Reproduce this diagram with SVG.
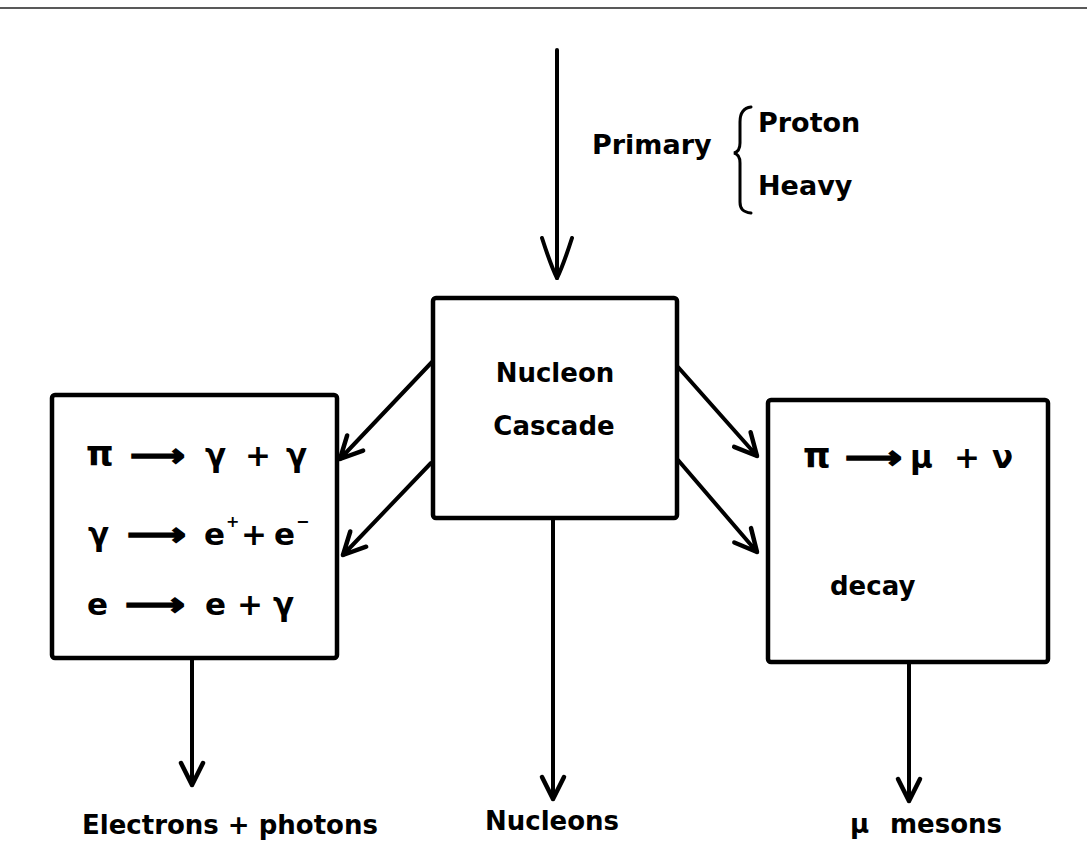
<svg xmlns="http://www.w3.org/2000/svg" width="1087" height="847" viewBox="0 0 1087 847">
  <style>
    .box { fill: #fff; stroke: #000; stroke-width: 4.5; stroke-linejoin: round; }
    .lbl { font-family: "DejaVu Sans", "Liberation Sans", sans-serif; font-weight: bold; font-size: 26px; fill: #000; }
    .top { font-size: 27px; }
    .eq { font-size: 31px; }
    .big { font-size: 35px; }
    .arr { stroke: #000; stroke-width: 1.6; }
    .sup { font-size: 16px; }
    .conn { stroke: #000; stroke-width: 4; fill: none; stroke-linecap: round; }
  </style>
  <defs>
    <marker id="head" markerUnits="userSpaceOnUse" markerWidth="60" markerHeight="60" refX="0" refY="0" orient="auto" overflow="visible" viewBox="-30 -30 60 60">
      <path d="M-22,-11 Q-8,-4 0,0 Q-8,4 -22,11" fill="none" stroke="#000" stroke-width="4.5" stroke-linecap="round" stroke-linejoin="round"/>
      <path d="M-9,-4 L0,0 L-9,4 Z" fill="#000"/>
    </marker>
    <marker id="headBig" markerUnits="userSpaceOnUse" markerWidth="90" markerHeight="90" refX="0" refY="0" orient="auto" overflow="visible" viewBox="-45 -45 90 90">
      <path d="M-40,-15 Q-12,-6 0,0 Q-12,6 -40,15" fill="none" stroke="#000" stroke-width="4" stroke-linecap="round" stroke-linejoin="round"/>
    </marker>
  </defs>

  <rect x="0" y="0" width="1087" height="847" fill="#fff"/>
  <line x1="0" y1="8" x2="1087" y2="8" stroke="#222" stroke-width="1.5"/>

  <g id="connectors">
    <line class="conn" x1="557" y1="50" x2="557" y2="278" stroke-width="3.5" marker-end="url(#headBig)"/>
    <line class="conn" x1="432" y1="362" x2="340" y2="459" marker-end="url(#head)"/>
    <line class="conn" x1="431" y1="463" x2="343" y2="555" marker-end="url(#head)"/>
    <line class="conn" x1="678" y1="367" x2="757" y2="456" marker-end="url(#head)"/>
    <line class="conn" x1="678" y1="460" x2="757" y2="552" marker-end="url(#head)"/>
    <line class="conn" x1="192" y1="658" x2="192" y2="785" marker-end="url(#head)"/>
    <line class="conn" x1="553" y1="518" x2="553" y2="799" marker-end="url(#head)"/>
    <line class="conn" x1="909" y1="662" x2="909" y2="801" marker-end="url(#head)"/>
  </g>

  <g id="primary">
    <text class="lbl top" x="592" y="154">Primary</text>
    <path d="M751,107 C743,108 740,113 740,122 L740,143 C740,149 738,152 734,153 C738,154 740,157 740,163 L740,202 C740,209 743,212 751,213" fill="none" stroke="#000" stroke-width="3" stroke-linecap="round"/>
    <text class="lbl top" x="758" y="132">Proton</text>
    <text class="lbl top" x="758" y="195">Heavy</text>
  </g>

  <g id="nucleon-cascade">
    <rect class="box" x="433" y="298" width="244" height="220" rx="3"/>
    <text class="lbl" x="555" y="382" text-anchor="middle">Nucleon</text>
    <text class="lbl" x="554" y="435" text-anchor="middle">Cascade</text>
  </g>

  <g id="electromagnetic">
    <rect class="box" x="52" y="395" width="285" height="263" rx="3"/>
    <text class="lbl eq" y="466"><tspan class="big" x="86">π</tspan><tspan class="arr" x="130" textLength="55" lengthAdjust="spacingAndGlyphs">⟶</tspan><tspan x="205">γ</tspan><tspan x="245">+</tspan><tspan x="286">γ</tspan></text>
    <text class="lbl eq" y="545"><tspan x="88">γ</tspan><tspan class="arr" x="127" textLength="59" lengthAdjust="spacingAndGlyphs">⟶</tspan><tspan x="204">e</tspan></text>
    <text class="lbl sup" x="226" y="527">+</text>
    <text class="lbl eq" x="241" y="545">+</text>
    <text class="lbl eq" x="274" y="545">e</text>
    <text class="lbl sup" x="296" y="527">−</text>
    <text class="lbl eq" y="615"><tspan x="87">e</tspan><tspan class="arr" x="125" textLength="60" lengthAdjust="spacingAndGlyphs">⟶</tspan><tspan x="205">e</tspan><tspan x="237">+</tspan><tspan x="273">γ</tspan></text>
  </g>

  <g id="pion-decay">
    <rect class="box" x="768" y="400" width="280" height="262" rx="3"/>
    <text class="lbl eq" y="468"><tspan class="big" x="803">π</tspan><tspan class="arr" x="845" textLength="57" lengthAdjust="spacingAndGlyphs">⟶</tspan><tspan x="910">μ</tspan><tspan x="954">+</tspan><tspan x="992">ν</tspan></text>
    <text class="lbl" x="830" y="595">decay</text>
  </g>

  <g id="electrons-photons">
    <text class="lbl" x="82" y="834">Electrons + photons</text>
  </g>
  <g id="nucleons">
    <text class="lbl" x="552" y="830" text-anchor="middle">Nucleons</text>
  </g>
  <g id="mu-mesons">
    <text class="lbl" x="850" y="833">μ</text>
    <text class="lbl" x="890" y="833">mesons</text>
  </g>
</svg>
